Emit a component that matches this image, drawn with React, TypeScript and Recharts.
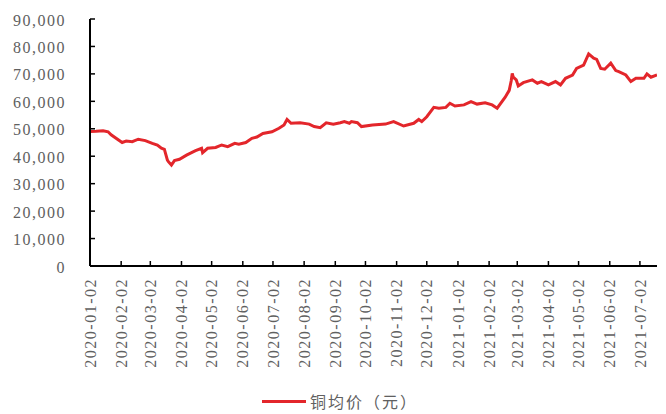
import React from 'react';
import { LineChart, Line, XAxis, YAxis } from 'recharts';

// 铜均价 (元/吨)
const dates = [
  '2020-01-02', '2020-01-08', '2020-01-15', '2020-01-20', '2020-01-23',
  '2020-02-03', '2020-02-07', '2020-02-13', '2020-02-19', '2020-02-26',
  '2020-03-04', '2020-03-09', '2020-03-13', '2020-03-16', '2020-03-19',
  '2020-03-20', '2020-03-23', '2020-03-26', '2020-03-31', '2020-04-07',
  '2020-04-16', '2020-04-22', '2020-04-23', '2020-04-28', '2020-05-06',
  '2020-05-12', '2020-05-18', '2020-05-25', '2020-05-29', '2020-06-05',
  '2020-06-11', '2020-06-16', '2020-06-22', '2020-07-01', '2020-07-08',
  '2020-07-13', '2020-07-16', '2020-07-20', '2020-07-29', '2020-08-07',
  '2020-08-12', '2020-08-18', '2020-08-24', '2020-08-31', '2020-09-07',
  '2020-09-11', '2020-09-16', '2020-09-18', '2020-09-24', '2020-09-28',
  '2020-10-09', '2020-10-22', '2020-10-30', '2020-11-09', '2020-11-19',
  '2020-11-24', '2020-11-27', '2020-12-02', '2020-12-09', '2020-12-14',
  '2020-12-21', '2020-12-25', '2020-12-30', '2021-01-08', '2021-01-15',
  '2021-01-21', '2021-01-29', '2021-02-05', '2021-02-10', '2021-02-18',
  '2021-02-22', '2021-02-24', '2021-02-25', '2021-02-26', '2021-03-01',
  '2021-03-03', '2021-03-08', '2021-03-17', '2021-03-22', '2021-03-26',
  '2021-04-02', '2021-04-09', '2021-04-14', '2021-04-19', '2021-04-26',
  '2021-04-30', '2021-05-07', '2021-05-12', '2021-05-17', '2021-05-20',
  '2021-05-24', '2021-05-28', '2021-06-03', '2021-06-08', '2021-06-11',
  '2021-06-18', '2021-06-23', '2021-06-28', '2021-07-06', '2021-07-09',
  '2021-07-13', '2021-07-19',
];
const prices = [
  49000, 49100, 49300, 48900, 47800,
  45000, 45500, 45300, 46200, 45700,
  44700, 44100, 42900, 42500, 38600,
  38000, 36800, 38400, 38900, 40400,
  42000, 42900, 41300, 42900, 43200,
  44100, 43500, 44700, 44400, 45000,
  46500, 47000, 48300, 48900, 50200,
  51400, 53400, 52000, 52200, 51700,
  50800, 50400, 52200, 51700, 52200,
  52600, 52000, 52600, 52200, 50800,
  51400, 51700, 52600, 51000, 52000,
  53400, 52600, 54400, 57800, 57500,
  57800, 59300, 58300, 58700, 59900,
  59000, 59500, 58700, 57500, 61500,
  64000, 67500, 70200, 68800, 67800,
  65600, 66800, 67800, 66600, 67200,
  66000, 67200, 66000, 68400, 69600,
  72000, 73200, 77300, 75700, 75300,
  72000, 71700, 73900, 71200, 70800,
  69600, 67200, 68400, 68400, 70000,
  68800, 69600,
];
const xTickLabels = [
  '2020-01-02', '2020-02-02', '2020-03-02', '2020-04-02', '2020-05-02',
  '2020-06-02', '2020-07-02', '2020-08-02', '2020-09-02', '2020-10-02',
  '2020-11-02', '2020-12-02', '2021-01-02', '2021-02-02', '2021-03-02',
  '2021-04-02', '2021-05-02', '2021-06-02', '2021-07-02',
];
const yTicks = [0, 10000, 20000, 30000, 40000, 50000, 60000, 70000, 80000, 90000];
const seriesName = '铜均价（元）';

const toTs = (s: string) => Date.parse(s + 'T00:00:00Z');
const fmtDate = (t: number) => new Date(t).toISOString().slice(0, 10);

const data = dates.map((d, i) => ({ t: toTs(d), price: prices[i] }));
const xTicks = xTickLabels.map(toTs);

const RED = '#e3262b';
const GREY = '#606060';
const FONT = '"Liberation Serif", "Times New Roman", serif';

const XTick = (props: any) => {
  const { x, y, payload } = props;
  return (
    <g>
      <line x1={x} y1={y} x2={x} y2={y - 5} stroke="#000" strokeWidth={1.5} />
      <text
        transform={`translate(${x},${y + 12}) rotate(-90)`}
        textAnchor="end"
        dy="0.35em"
        fill={GREY}
        fontFamily={FONT}
        fontSize={16}
        letterSpacing={1.5}
      >
        {fmtDate(payload.value)}
      </text>
    </g>
  );
};

const YTick = (props: any) => {
  const { x, y, payload } = props;
  return (
    <g>
      <line x1={x} y1={y} x2={x + 5} y2={y} stroke="#000" strokeWidth={1.5} />
      <text
        x={x - 24}
        y={y + 1}
        textAnchor="end"
        dy="0.35em"
        fill={GREY}
        fontFamily={FONT}
        fontSize={16}
        letterSpacing={1.5}
      >
        {payload.value.toLocaleString('en-US')}
      </text>
    </g>
  );
};

export default function App() {
  return (
    <div style={{ position: 'absolute', left: 0, top: 0, width: 666, height: 414, background: '#fff' }}>
      <LineChart width={666} height={414} data={data} margin={{ top: 19, right: 9, bottom: 0, left: 0 }}>
        <XAxis
          dataKey="t"
          type="number"
          scale="time"
          domain={[toTs('2020-01-02'), toTs('2021-07-19')]}
          ticks={xTicks}
          interval={0}
          height={148}
          tickSize={0}
          tickMargin={0}
          tick={<XTick />}
          axisLine={{ stroke: '#000', strokeWidth: 2 }}
          allowDataOverflow
        />
        <YAxis
          type="number"
          domain={[0, 90000]}
          ticks={yTicks}
          interval={0}
          width={90}
          tickSize={0}
          tickMargin={0}
          tick={<YTick />}
          axisLine={{ stroke: '#000', strokeWidth: 2 }}
        />
        <Line
          type="linear"
          dataKey="price"
          name={seriesName}
          stroke={RED}
          strokeWidth={3}
          dot={false}
          isAnimationActive={false}
        />
      </LineChart>
      <div
        style={{
          position: 'absolute',
          left: 262,
          top: 389,
          display: 'flex',
          alignItems: 'center',
          fontFamily: '"Noto Sans CJK SC", sans-serif',
          fontSize: 16,
          color: GREY,
          letterSpacing: 2,
        }}
      >
        <span style={{ display: 'inline-block', width: 44, height: 3, background: RED, marginRight: 4 }} />
        <span>{seriesName}</span>
      </div>
    </div>
  );
}
